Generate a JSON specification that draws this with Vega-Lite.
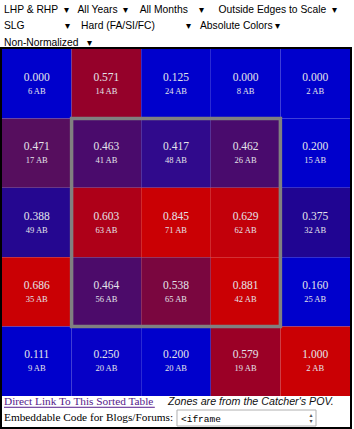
{
  "$schema": "https://vega.github.io/schema/vega-lite/v6.json",
  "autosize": "none",
  "width": 350,
  "height": 380,
  "padding": {"left": 1, "top": 48, "right": 3, "bottom": 1},
  "background": "white",
  "config": {"view": {"stroke": "black", "strokeWidth": 2}},
  "title": {
    "text": [
      "LHP & RHP\u00a0\u00a0▾\u00a0\u00a0\u00a0All Years\u00a0\u00a0▾\u00a0\u00a0\u00a0\u00a0All Months\u00a0\u00a0\u00a0\u00a0▾\u00a0\u00a0\u00a0\u00a0\u00a0Outside Edges to Scale\u00a0\u00a0▾",
      "SLG\u00a0\u00a0\u00a0\u00a0\u00a0\u00a0\u00a0\u00a0\u00a0\u00a0\u00a0\u00a0\u00a0\u00a0▾\u00a0\u00a0\u00a0\u00a0Hard (FA/SI/FC)\u00a0\u00a0\u00a0\u00a0\u00a0\u00a0\u00a0\u00a0\u00a0\u00a0\u00a0▾\u00a0\u00a0\u00a0Absolute Colors\u00a0▾",
      "Non-Normalized\u00a0\u00a0\u00a0▾"
    ],
    "anchor": "start",
    "frame": "group",
    "font": "Liberation Sans",
    "fontSize": 10.3,
    "fontWeight": "normal",
    "color": "#000000",
    "baseline": "top",
    "lineHeight": 16.5,
    "offset": 0,
    "dx": 3
  },
  "resolve": {"scale": {"x": "independent", "y": "independent"}},
  "layer": [
    {
      "data": {
        "values": [
          {"col": 1, "row": 1, "slg": 0.000, "ab": 6, "zone": "ball"},
          {"col": 2, "row": 1, "slg": 0.571, "ab": 14, "zone": "ball"},
          {"col": 3, "row": 1, "slg": 0.125, "ab": 24, "zone": "ball"},
          {"col": 4, "row": 1, "slg": 0.000, "ab": 8, "zone": "ball"},
          {"col": 5, "row": 1, "slg": 0.000, "ab": 2, "zone": "ball"},
          {"col": 1, "row": 2, "slg": 0.471, "ab": 17, "zone": "ball"},
          {"col": 2, "row": 2, "slg": 0.463, "ab": 41, "zone": "strike"},
          {"col": 3, "row": 2, "slg": 0.417, "ab": 48, "zone": "strike"},
          {"col": 4, "row": 2, "slg": 0.462, "ab": 26, "zone": "strike"},
          {"col": 5, "row": 2, "slg": 0.200, "ab": 15, "zone": "ball"},
          {"col": 1, "row": 3, "slg": 0.388, "ab": 49, "zone": "ball"},
          {"col": 2, "row": 3, "slg": 0.603, "ab": 63, "zone": "strike"},
          {"col": 3, "row": 3, "slg": 0.845, "ab": 71, "zone": "strike"},
          {"col": 4, "row": 3, "slg": 0.629, "ab": 62, "zone": "strike"},
          {"col": 5, "row": 3, "slg": 0.375, "ab": 32, "zone": "ball"},
          {"col": 1, "row": 4, "slg": 0.686, "ab": 35, "zone": "ball"},
          {"col": 2, "row": 4, "slg": 0.464, "ab": 56, "zone": "strike"},
          {"col": 3, "row": 4, "slg": 0.538, "ab": 65, "zone": "strike"},
          {"col": 4, "row": 4, "slg": 0.881, "ab": 42, "zone": "strike"},
          {"col": 5, "row": 4, "slg": 0.160, "ab": 25, "zone": "ball"},
          {"col": 1, "row": 5, "slg": 0.111, "ab": 9, "zone": "ball"},
          {"col": 2, "row": 5, "slg": 0.250, "ab": 20, "zone": "ball"},
          {"col": 3, "row": 5, "slg": 0.200, "ab": 20, "zone": "ball"},
          {"col": 4, "row": 5, "slg": 0.579, "ab": 19, "zone": "ball"},
          {"col": 5, "row": 5, "slg": 1.000, "ab": 2, "zone": "ball"}
        ]
      },
      "layer": [
        {
          "mark": {"type": "rect", "strokeWidth": 0},
          "encoding": {
            "x": {"field": "col", "type": "ordinal", "axis": null,
                  "scale": {"domain": [1, 2, 3, 4, 5], "range": [1, 349], "paddingInner": 0, "paddingOuter": 0}},
            "y": {"field": "row", "type": "ordinal", "axis": null,
                  "scale": {"domain": [1, 2, 3, 4, 5], "range": [1, 348], "paddingInner": 0, "paddingOuter": 0}},
            "color": {
              "field": "slg", "type": "quantitative", "legend": null,
              "scale": {
                "domain": [0.2, 0.25, 0.375, 0.417, 0.463, 0.471, 0.538, 0.575, 0.603, 0.64],
                "range": ["#0000CC", "#0600C6", "#200592", "#300A8C", "#4A0B6C", "#560E5E", "#7A063F", "#980028", "#AE0018", "#CA0004"],
                "interpolate": "rgb",
                "clamp": true
              }
            }
          }
        },
        {
          "mark": {"type": "text", "font": "Liberation Serif", "fontSize": 11.5, "color": "#e4e4ea", "dy": -6, "baseline": "middle"},
          "encoding": {
            "x": {"field": "col", "type": "ordinal"},
            "y": {"field": "row", "type": "ordinal"},
            "text": {"field": "slg", "type": "quantitative", "format": ".3f"}
          }
        },
        {
          "transform": [{"calculate": "datum.ab + ' AB'", "as": "abLabel"}],
          "mark": {"type": "text", "font": "Liberation Serif", "fontSize": 8.5, "color": "#e4e4ea", "dy": 7, "baseline": "middle"},
          "encoding": {
            "x": {"field": "col", "type": "ordinal"},
            "y": {"field": "row", "type": "ordinal"},
            "text": {"field": "abLabel", "type": "nominal"}
          }
        },
        {
          "transform": [
            {"filter": "datum.zone === 'strike'"},
            {"aggregate": [
              {"op": "min", "field": "col", "as": "c0"},
              {"op": "max", "field": "col", "as": "c1"},
              {"op": "min", "field": "row", "as": "r0"},
              {"op": "max", "field": "row", "as": "r1"}
            ]}
          ],
          "mark": {"type": "rect", "filled": false, "stroke": "#808080", "strokeWidth": 3.5},
          "encoding": {
            "x": {"field": "c0", "type": "ordinal", "bandPosition": 0},
            "x2": {"field": "c1", "bandPosition": 1},
            "y": {"field": "r0", "type": "ordinal", "bandPosition": 0},
            "y2": {"field": "r1", "bandPosition": 1}
          }
        }
      ]
    },
    {
      "encoding": {
        "x": {"field": "part", "type": "nominal", "axis": null, "bandPosition": 0,
              "scale": {"domain": ["a", "b"], "range": [3, 315], "paddingInner": 0.1965, "paddingOuter": 0}},
        "y": {"field": "line", "type": "nominal", "axis": null,
              "scale": {"domain": ["link", "embed"], "range": [346, 378], "paddingInner": 0, "paddingOuter": 0}}
      },
      "layer": [
        {
          "data": {"values": [{"part": "b", "line": "embed"}]},
          "mark": {"type": "rect", "fill": "white", "stroke": "#b0b0b0", "strokeWidth": 1},
          "encoding": {
            "x": {"field": "part", "type": "nominal"},
            "y": {"field": "line", "type": "nominal"}
          }
        },
        {
          "data": {"values": [{"part": "a", "line": "link", "label": "Direct Link To This Sorted Table"}]},
          "mark": {"type": "text", "align": "left", "baseline": "middle", "font": "Liberation Serif", "fontSize": 11.3, "color": "#551A8B"},
          "encoding": {"text": {"field": "label"}}
        },
        {
          "data": {"values": [{"part": "a", "line": "link"}]},
          "mark": {"type": "rule", "color": "#551A8B", "strokeWidth": 1},
          "encoding": {
            "x": {"field": "part", "type": "nominal", "bandPosition": 0},
            "x2": {"field": "part", "bandPosition": 1.085},
            "y": {"field": "line", "type": "nominal", "bandPosition": 0.83}
          }
        },
        {
          "data": {"values": [{"part": "b", "line": "link", "label": "Zones are from the Catcher's POV."}]},
          "mark": {"type": "text", "align": "left", "baseline": "middle", "font": "Liberation Sans", "fontStyle": "italic", "fontSize": 10.7, "color": "#111111", "dx": -9},
          "encoding": {"text": {"field": "label"}}
        },
        {
          "data": {"values": [{"part": "a", "line": "embed", "label": "Embeddable Code for Blogs/Forums:"}]},
          "mark": {"type": "text", "align": "left", "baseline": "middle", "font": "Liberation Serif", "fontSize": 11.3, "color": "#000000"},
          "encoding": {"text": {"field": "label"}}
        },
        {
          "data": {"values": [{"part": "b", "line": "embed", "label": "<iframe"}]},
          "mark": {"type": "text", "align": "left", "baseline": "middle", "font": "Liberation Mono", "fontSize": 9.5, "color": "#000000", "dx": 4, "dy": 1},
          "encoding": {"text": {"field": "label"}}
        },
        {
          "data": {"values": [{"part": "b", "line": "embed", "label": "▴"}]},
          "mark": {"type": "text", "align": "center", "baseline": "middle", "font": "DejaVu Sans", "fontSize": 6, "color": "#555555", "dx": -5, "dy": -3},
          "encoding": {
            "x": {"field": "part", "type": "nominal", "bandPosition": 1},
            "text": {"field": "label"}
          }
        },
        {
          "data": {"values": [{"part": "b", "line": "embed", "label": "▾"}]},
          "mark": {"type": "text", "align": "center", "baseline": "middle", "font": "DejaVu Sans", "fontSize": 6, "color": "#555555", "dx": -5, "dy": 3},
          "encoding": {
            "x": {"field": "part", "type": "nominal", "bandPosition": 1},
            "text": {"field": "label"}
          }
        }
      ]
    }
  ]
}
